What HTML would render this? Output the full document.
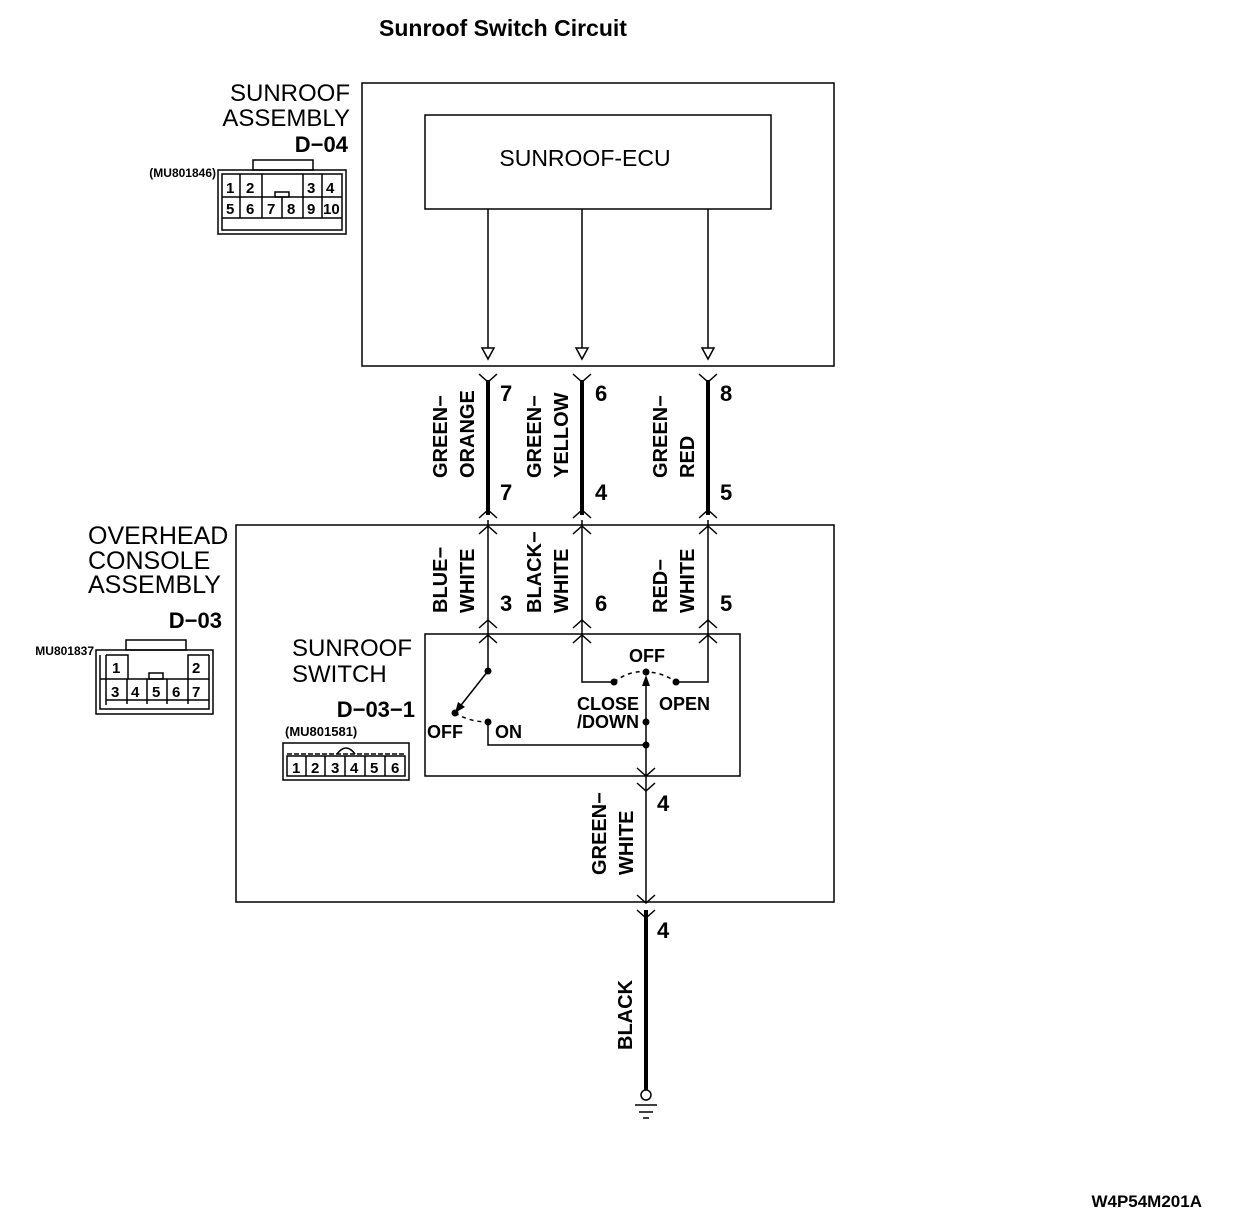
<!DOCTYPE html>
<html><head><meta charset="utf-8"><style>
body{margin:0;background:#fff}
svg{display:block}
.n{font-family:"Liberation Sans Narrow","Liberation Sans",sans-serif;font-weight:bold}
.r{font-family:"Liberation Sans",sans-serif}
</style></head><body>
<svg width="1248" height="1226" viewBox="0 0 1248 1226" xmlns="http://www.w3.org/2000/svg" stroke="#000" fill="none" stroke-width="1.5">
<g stroke="none" fill="#000">
<text x="503" y="36" class="r" font-weight="bold" font-size="23" text-anchor="middle">Sunroof Switch Circuit</text>
<text x="585" y="166" class="r" font-size="23" text-anchor="middle">SUNROOF-ECU</text>
<text x="350" y="101" class="r" font-size="24" text-anchor="end">SUNROOF</text>
<text x="350" y="126" class="r" font-size="24" text-anchor="end">ASSEMBLY</text>
<text x="348" y="152" class="n" font-size="22" text-anchor="end">D−04</text>
<text x="216" y="177" class="n" font-size="12" text-anchor="end">(MU801846)</text>
<text x="88" y="544" class="r" font-size="25">OVERHEAD</text>
<text x="88" y="569" class="r" font-size="25">CONSOLE</text>
<text x="88" y="593" class="r" font-size="25">ASSEMBLY</text>
<text x="222" y="628" class="n" font-size="22" text-anchor="end">D−03</text>
<text x="94" y="655" class="n" font-size="12" text-anchor="end">MU801837</text>
<text x="292" y="656" class="r" font-size="24">SUNROOF</text>
<text x="292" y="682" class="r" font-size="24">SWITCH</text>
<text x="415" y="717" class="n" font-size="22" text-anchor="end">D−03−1</text>
<text x="285" y="736" class="n" font-size="13">(MU801581)</text>
<text x="1202" y="1207" class="n" font-size="17" text-anchor="end">W4P54M201A</text>
<g class="n" font-size="22">
<text x="500" y="401">7</text><text x="595" y="401">6</text><text x="720" y="401">8</text>
<text x="500" y="500">7</text><text x="595" y="500">4</text><text x="720" y="500">5</text>
<text x="500" y="611">3</text><text x="595" y="611">6</text><text x="720" y="611">5</text>
<text x="657" y="811">4</text><text x="657" y="938">4</text>
</g>
<g class="n" font-size="20">
<text transform="translate(447,478) rotate(-90)">GREEN−</text>
<text transform="translate(474,478) rotate(-90)">ORANGE</text>
<text transform="translate(541,478) rotate(-90)">GREEN−</text>
<text transform="translate(568,478) rotate(-90)">YELLOW</text>
<text transform="translate(667,478) rotate(-90)">GREEN−</text>
<text transform="translate(694,478) rotate(-90)">RED</text>
<text transform="translate(447,613) rotate(-90)">BLUE−</text>
<text transform="translate(474,613) rotate(-90)">WHITE</text>
<text transform="translate(541,613) rotate(-90)">BLACK−</text>
<text transform="translate(568,613) rotate(-90)">WHITE</text>
<text transform="translate(667,613) rotate(-90)">RED−</text>
<text transform="translate(694,613) rotate(-90)">WHITE</text>
<text transform="translate(606,875) rotate(-90)">GREEN−</text>
<text transform="translate(633,875) rotate(-90)">WHITE</text>
<text transform="translate(632,1050) rotate(-90)">BLACK</text>
</g>
<g class="n" font-size="18">
<text x="629" y="662">OFF</text>
<text x="577" y="710">CLOSE</text>
<text x="577" y="728">/DOWN</text>
<text x="659" y="710">OPEN</text>
<text x="427" y="738">OFF</text>
<text x="495" y="738">ON</text>
</g>
<circle cx="488" cy="671" r="3.5"/><circle cx="455" cy="713" r="3.5"/><circle cx="488" cy="722" r="3.5"/>
<circle cx="614" cy="682" r="3.5"/><circle cx="646" cy="672" r="3.5"/><circle cx="676" cy="682" r="3.5"/>
<circle cx="646" cy="722" r="3.5"/><circle cx="646" cy="745" r="3.5"/>
<polygon points="646,675 642,686 650,686"/>
<polygon points="455,713 458,702 465,707"/>
</g>
<rect x="362" y="83" width="472" height="283"/>
<rect x="425" y="115" width="346" height="94"/>
<rect x="236" y="525" width="598" height="377"/>
<rect x="425" y="634" width="315" height="142"/>
<g>
<path d="M488 209V348M582 209V348M708 209V348"/>
<path d="M482 348h12l-6 11zM576 348h12l-6 11zM702 348h12l-6 11z"/>
</g>
<path d="M488 380V515M582 380V515M708 380V515M646 910V1090" stroke-width="4"/>
<g>
<path d="M479 374l9 8 9-8M573 374l9 8 9-8M699 374l9 8 9-8"/>
<path d="M479 518l9-8 9 8M573 518l9-8 9 8M699 518l9-8 9 8"/>
<path d="M479 534l9-8 9 8M573 534l9-8 9 8M699 534l9-8 9 8"/>
<path d="M479 628l9-8 9 8M573 628l9-8 9 8M699 628l9-8 9 8"/>
<path d="M479 643l9-8 9 8M573 643l9-8 9 8M699 643l9-8 9 8"/>
<path d="M637 768l9 8 9-8M637 783l9 8 9-8M637 895l9 8 9-8M637 910l9 8 9-8"/>
<path d="M488 520V671M582 520V682H614M708 520V682H676"/>
<path d="M488 671L458 709"/>
<path d="M488 722V745H646M646 680V903"/>
<path d="M455 713Q470 722 488 722M614 682Q630 670 646 672Q662 672 676 682" stroke-dasharray="4,4"/>
<circle cx="646" cy="1095" r="5"/>
<path d="M635 1105h22M639 1112h14M643 1118h6"/>
</g>
<g stroke-width="1.5">
<rect x="218" y="170" width="128" height="64"/>
<rect x="253" y="160" width="60" height="10"/>
<path d="M222 174v56h120v-56z"/>
<path d="M222 197h120M222 218h120M240 174v44M262 174v44M303 174v44M322 174v44M282 197v21M262 197v21"/>
<rect x="275" y="192" width="14" height="5"/>
</g>
<g stroke="none" fill="#000" class="n" font-size="15">
<text x="226" y="193">1</text><text x="246" y="193">2</text><text x="307" y="193">3</text><text x="326" y="193">4</text>
<text x="226" y="214">5</text><text x="246" y="214">6</text><text x="267" y="214">7</text><text x="287" y="214">8</text><text x="307" y="214">9</text><text x="323" y="214">10</text>
</g>
<g>
<rect x="96" y="650" width="117" height="64"/>
<rect x="126" y="640" width="60" height="10"/>
<path d="M100 655v54h109v-54"/>
<path d="M106 655h22v24M188 679v-24h21M106 655v50M100 679h109M106 700h103M127 679v25M147 679v25M167 679v25M188 679v25"/>
<rect x="149" y="673" width="14" height="6"/>
</g>
<g stroke="none" fill="#000" class="n" font-size="15">
<text x="112" y="673">1</text><text x="192" y="673">2</text>
<text x="111" y="697">3</text><text x="131" y="697">4</text><text x="152" y="697">5</text><text x="172" y="697">6</text><text x="192" y="697">7</text>
</g>
<g>
<rect x="283" y="743" width="126" height="37"/>
<path d="M287 754h118" stroke-dasharray="5,2"/>
<path d="M337 754q9-12 18 0"/>
<path d="M287 756h118v20h-118zM306 756v20M325 756v20M345 756v20M365 756v20M385 756v20"/>
</g>
<g stroke="none" fill="#000" class="n" font-size="15">
<text x="292" y="773">1</text><text x="311" y="773">2</text><text x="331" y="773">3</text><text x="350" y="773">4</text><text x="370" y="773">5</text><text x="391" y="773">6</text>
</g>
</svg>
</body></html>
